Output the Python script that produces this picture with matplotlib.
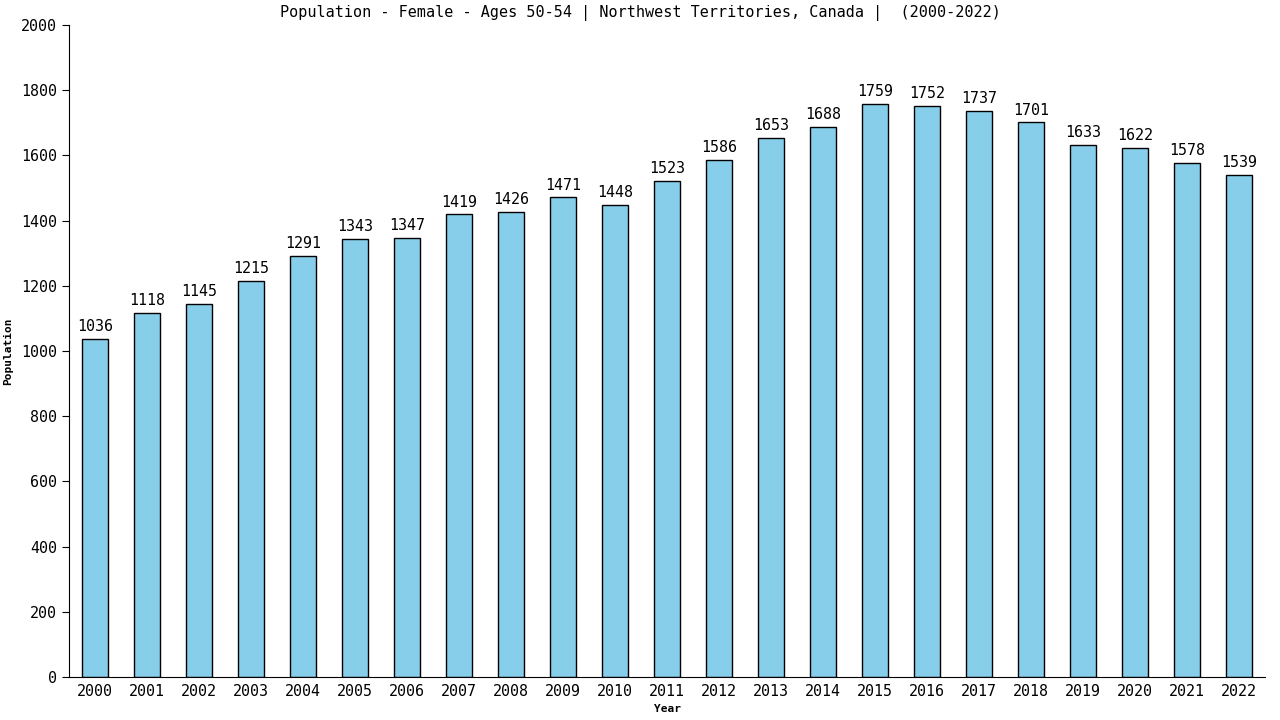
import matplotlib
matplotlib.use("Agg")
import matplotlib.pyplot as plt

years = [str(y) for y in range(2000, 2023)]
values = [1036, 1118, 1145, 1215, 1291, 1343, 1347, 1419, 1426, 1471, 1448, 1523,
          1586, 1653, 1688, 1759, 1752, 1737, 1701, 1633, 1622, 1578, 1539]
yticks = list(range(0, 2001, 200))

plt.rcParams['font.family'] = ['DejaVu Sans Mono']
fig = plt.figure(figsize=(12.8, 7.2), dpi=100)
ax = fig.add_axes([69/1280, 43/720, 1196/1280, 652/720])
x = list(range(len(years)))
ax.bar(x, values, width=0.5, color='#87CEEB', edgecolor='black', linewidth=1)
for xi, v in zip(x, values):
    ax.text(xi, v + 15, str(v), ha='center', va='bottom', fontsize=10.8)
ax.set_xlim(-0.5, len(years) - 0.5)
ax.set_ylim(0, 2000)
ax.set_yticks(yticks)
ax.set_xticks(x)
ax.set_xticklabels(years)
ax.tick_params(axis='x', length=0, labelsize=10.8, pad=5)
ax.tick_params(axis='y', length=5, labelsize=10.8)
ax.spines['top'].set_visible(False)
ax.spines['right'].set_visible(False)
ax.set_xlabel('Year', fontsize=8, fontweight='bold', labelpad=4)
ax.set_ylabel('Population', fontsize=8, fontweight='bold', labelpad=6)
fig.text(0.5, 1 - 13/720, 'Population - Female - Ages 50-54 | Northwest Territories, Canada |  (2000-2022)',
         ha='center', va='center', fontsize=10.9)
fig.savefig('out.png', dpi=100)
